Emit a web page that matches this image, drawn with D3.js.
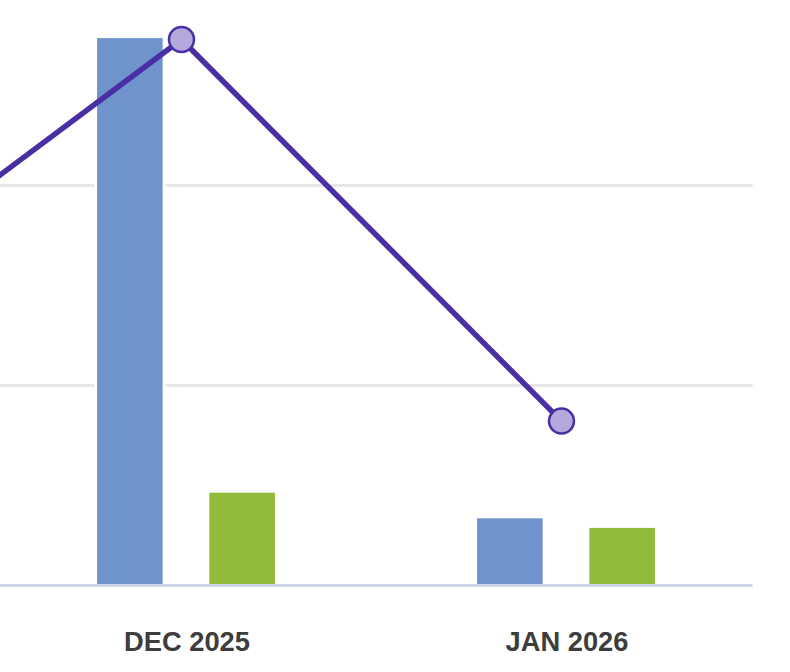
<!DOCTYPE html>
<html>
<head>
<meta charset="utf-8">
<script src="https://cdn.jsdelivr.net/npm/d3@7/dist/d3.min.js"></script>
<style>
  html, body { margin: 0; padding: 0; background: #ffffff; }
  svg { display: block; }
</style>
</head>
<body>
<svg id="chart" width="790" height="672"></svg>
<script>
// ---- data (chart is a cropped view; the first category lies off to the left) ----
const categories = ["NOV 2025", "DEC 2025", "JAN 2026"];
const seriesNames = ["blue", "green"];
const blueValues  = [null, 27.37, 3.36];
const greenValues = [null, 4.64, 2.88];
const lineValues  = [13.1, 27.3, 8.22];
const yTicks = [0, 10, 20, 30];

// ---- layout ----
const W = 790, H = 672;
const plotRight = 752.5;
const yBase = 585.5;
const pxPerUnit = 20;
const step = 380;
const decCenter = 186;
const x0 = decCenter - 1.5 * step;

const svg = d3.select("#chart");

const x = d3.scaleBand()
  .domain(categories)
  .range([x0, x0 + step * categories.length])
  .padding(0);

const xSub = d3.scaleBand()
  .domain(seriesNames)
  .range([0, step])
  .paddingInner(0.416)
  .paddingOuter(0.9);

const y = d3.scaleLinear()
  .domain([0, 30])
  .range([yBase, yBase - 30 * pxPerUnit]);

const colors = { blue: "#6f93cc", green: "#92bb3a" };

// gridlines
svg.append("g")
  .selectAll("line")
  .data(yTicks.filter(t => t > 0))
  .join("line")
  .attr("x1", -10)
  .attr("x2", plotRight)
  .attr("y1", d => y(d))
  .attr("y2", d => y(d))
  .attr("stroke", "#e6e6e6")
  .attr("stroke-width", 3);

// bars
const barData = [];
categories.forEach((c, i) => {
  [["blue", blueValues[i]], ["green", greenValues[i]]].forEach(([s, v]) => {
    if (v != null) barData.push({ c, s, v });
  });
});

svg.append("g")
  .selectAll("rect")
  .data(barData)
  .join("rect")
  .attr("x", d => x(d.c) + xSub(d.s))
  .attr("width", xSub.bandwidth())
  .attr("y", d => y(d.v))
  .attr("height", d => y(0) - y(d.v))
  .attr("fill", d => colors[d.s])
  .attr("stroke", "#ffffff")
  .attr("stroke-width", 6)
  .attr("paint-order", "stroke fill");

// axis baseline
svg.append("line")
  .attr("x1", -10)
  .attr("x2", plotRight)
  .attr("y1", y(0))
  .attr("y2", y(0))
  .attr("stroke", "#ccd6eb")
  .attr("stroke-width", 3);

// category labels via axis (only categories whose centre is inside the view)
const visibleCats = categories.filter(c => x(c) + x.bandwidth() / 2 > 0);
const xAxis = d3.axisBottom(x).tickValues(visibleCats).tickSize(0).tickPadding(0);
const axisG = svg.append("g")
  .attr("transform", `translate(1, 651)`)
  .call(xAxis);
axisG.select(".domain").remove();
axisG.selectAll("text")
  .attr("dy", 0)
  .attr("y", 0)
  .attr("fill", "#3d3d3d")
  .attr("font-family", "'Liberation Sans', Arial, Helvetica, sans-serif")
  .attr("font-weight", "bold")
  .attr("font-size", "27.3px");

// line series
const lineOffset = -4.5;
const linePts = categories.map((c, i) => ({ c, v: lineValues[i] }));
const lineGen = d3.line()
  .x(d => x(d.c) + x.bandwidth() / 2 + lineOffset)
  .y(d => y(d.v));

svg.append("path")
  .datum(linePts)
  .attr("d", lineGen)
  .attr("fill", "none")
  .attr("stroke", "#4a2ea3")
  .attr("stroke-width", 5.5)
  .attr("stroke-linejoin", "round")
  .attr("stroke-linecap", "round");

svg.append("g")
  .selectAll("circle")
  .data(linePts)
  .join("circle")
  .attr("cx", d => x(d.c) + x.bandwidth() / 2 + lineOffset)
  .attr("cy", d => y(d.v))
  .attr("r", 12.5)
  .attr("fill", "#b5a8dd")
  .attr("stroke", "#4a2ea3")
  .attr("stroke-width", 2.5);
</script>
</body>
</html>
